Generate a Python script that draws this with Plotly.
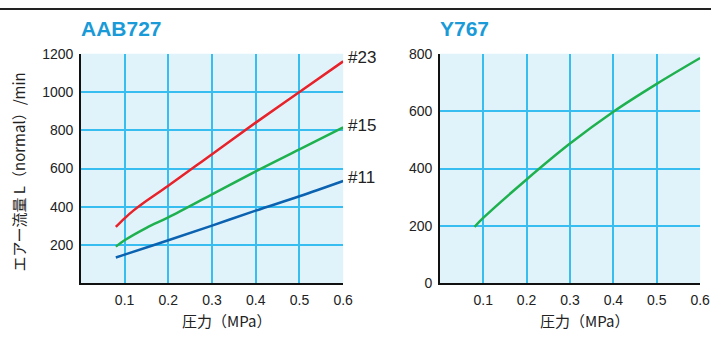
import plotly.graph_objects as go

BG = '#e1f3fa'
GRID = '#38bdf0'
RED = '#e8222b'
GREEN = '#1fb14f'
BLUE = '#0a62b0'
TITLE_BLUE = '#1b9ad8'
FONT = 'Liberation Sans, Arial, Noto Sans CJK JP'
JP_FONT = 'Noto Sans CJK JP, Liberation Sans'

# AAB727
p23 = [0.08, 0.10, 0.12, 0.14, 0.20, 0.30, 0.40, 0.50, 0.60]
q23 = [295, 340, 380, 415, 510, 675, 840, 1000, 1160]
p15 = [0.08, 0.10, 0.15, 0.20, 0.30, 0.40, 0.50, 0.60]
q15 = [192, 225, 290, 345, 465, 585, 700, 815]
p11 = [0.08, 0.10, 0.20, 0.30, 0.40, 0.50, 0.60]
q11 = [135, 150, 225, 302, 380, 455, 535]

# Y767
py = [0.08, 0.10, 0.20, 0.30, 0.40, 0.50, 0.60]
qy = [197, 228, 362, 487, 598, 695, 785]

x_ticks = [0.1, 0.2, 0.3, 0.4, 0.5, 0.6]
y1_ticks = [200, 400, 600, 800, 1000, 1200]
y2_ticks = [0, 200, 400, 600, 800]

W, H = 721, 339

fig = go.Figure()
fig.add_trace(go.Scatter(x=p23, y=q23, mode='lines', line=dict(color=RED, width=2.5, shape='spline'), xaxis='x', yaxis='y'))
fig.add_trace(go.Scatter(x=p15, y=q15, mode='lines', line=dict(color=GREEN, width=2.5, shape='spline'), xaxis='x', yaxis='y'))
fig.add_trace(go.Scatter(x=p11, y=q11, mode='lines', line=dict(color=BLUE, width=2.5, shape='spline'), xaxis='x', yaxis='y'))
fig.add_trace(go.Scatter(x=py, y=qy, mode='lines', line=dict(color=GREEN, width=2.5, shape='spline'), xaxis='x2', yaxis='y2'))

ax = dict(showline=True, linecolor='#111', linewidth=1.5, showgrid=True, gridcolor=GRID, gridwidth=1.5,
          zeroline=False, ticks='', tickfont=dict(family=FONT, size=14, color='#222'), fixedrange=True)
xax = dict(ax, range=[0, 0.6], tickvals=x_ticks, ticktext=[str(t) for t in x_ticks], ticklabelstandoff=3)
yb = 1 - 289 / H
yt = 1 - 48 / H
fig.update_layout(
    width=W, height=H, margin=dict(l=0, r=0, t=0, b=0),
    paper_bgcolor='white', plot_bgcolor=BG, showlegend=False,
    xaxis=dict(xax, domain=[82 / W, 348 / W], anchor='y'),
    yaxis=dict(ax, domain=[yb, yt], range=[0, 1200], tickvals=y1_ticks, anchor='x', ticklabelstandoff=3),
    xaxis2=dict(xax, domain=[446 / W, 710 / W], anchor='y2'),
    yaxis2=dict(ax, domain=[yb, yt], range=[0, 800], tickvals=y2_ticks, anchor='x2', ticklabelstandoff=3),
)

ann = [
    dict(text='<b>AAB727</b>', x=80 / W, y=1 - 21 / H, xanchor='left', yanchor='middle', font=dict(family=FONT, size=21, color=TITLE_BLUE)),
    dict(text='<b>Y767</b>', x=444 / W, y=1 - 21 / H, xanchor='left', yanchor='middle', font=dict(family=FONT, size=21, color=TITLE_BLUE)),
    dict(text='#23', x=351 / W, y=1 - 52 / H, xanchor='left', yanchor='middle', font=dict(family=FONT, size=17, color='#222')),
    dict(text='#15', x=351 / W, y=1 - 123 / H, xanchor='left', yanchor='middle', font=dict(family=FONT, size=17, color='#222')),
    dict(text='#11', x=351 / W, y=1 - 178 / H, xanchor='left', yanchor='middle', font=dict(family=FONT, size=17, color='#222')),
    dict(text='圧力（MPa）', x=230 / W, y=1 - 328 / H, xanchor='center', yanchor='middle', font=dict(family=JP_FONT, size=15, color='#222')),
    dict(text='圧力（MPa）', x=593 / W, y=1 - 328 / H, xanchor='center', yanchor='middle', font=dict(family=JP_FONT, size=15, color='#222')),
    dict(text='エアー流量 L（normal）/min', x=19 / W, y=1 - 172 / H, xanchor='center', yanchor='middle', textangle=-90, font=dict(family=JP_FONT, size=15, color='#222')),
]
for a in ann:
    a.update(xref='paper', yref='paper', showarrow=False)
fig.update_layout(annotations=ann)

fig.add_shape(type='line', xref='paper', yref='paper', x0=0, x1=1, y0=1 - 1 / H, y1=1 - 1 / H, line=dict(color='#222', width=2))

fig.write_html('out.html', config=dict(displayModeBar=False), post_script="document.body.style.margin='0';document.body.style.overflow='hidden';")
